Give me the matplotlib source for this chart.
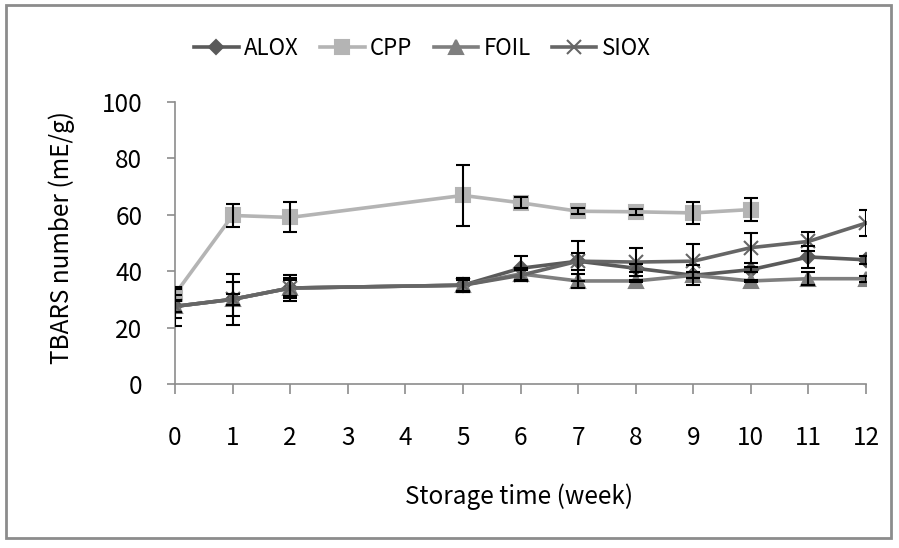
"""Recreate TBARS vs storage time chart -> out.png"""
import matplotlib
matplotlib.use("Agg")
import matplotlib.pyplot as plt
from matplotlib.patches import Rectangle

plt.rcParams["font.family"] = ["Noto Sans CJK KR", "DejaVu Sans"]

# ---- data --------------------------------------------------------------------
weeks = [0, 1, 2, 5, 6, 7, 8, 9, 10, 11, 12]
cpp_weeks = [0, 1, 2, 5, 6, 7, 8, 9, 10]

alox = [27.5, 30, 34, 35, 41, 43.5, 41, 38.5, 40.5, 45, 44]
alox_err = [4, 6, 3.5, 2.5, 4.5, 3, 1.5, 1, 1, 4, 1.5]

cpp = [31.8, 59.7, 59, 66.8, 64.2, 61.2, 61, 60.6, 61.8]
cpp_err = [2, 4.2, 5.3, 10.7, 2, 1, 1, 3.8, 4.2]

foil = [27.5, 30, 34, 35, 39, 36.5, 36.5, 38.5, 36.5, 37.3, 37.3]
foil_err = [2, 2, 3, 2, 2, 2.6, 0.5, 3.5, 0.5, 2.3, 1]

siox = [27.5, 30, 34, 35, 38.5, 43.5, 43.2, 43.5, 48.3, 50.5, 57]
siox_err = [7, 9, 4.5, 2.5, 2, 7, 5, 6, 5.3, 3.5, 4.5]

series = [
    ("ALOX", weeks, alox, alox_err, "#5a5a5a", "D", 7),
    ("CPP", cpp_weeks, cpp, cpp_err, "#b4b4b4", "s", 10),
    ("FOIL", weeks, foil, foil_err, "#7f7f7f", "^", 10),
    ("SIOX", weeks, siox, siox_err, "#666666", "x", 10),
]

FS = 17.5

fig = plt.figure(figsize=(8.99, 5.48), dpi=100, facecolor="white")
ax = fig.add_axes([175 / 899, 1 - 384 / 548, 691 / 899, 282.3 / 548])

for name, x, y, e, col, mk, ms in series:
    ax.plot(x, y, color=col, lw=2.6, marker=mk, ms=ms, mfc=col, mec=col,
            mew=1.5, label=name, zorder=2)
    ax.errorbar(x, y, yerr=e, fmt="none", ecolor="black", elinewidth=1.5,
                capsize=5, capthick=1.5, zorder=3)

ax.set_xlim(0, 12)
ax.set_ylim(0, 100)
ax.set_xticks(range(0, 13))
ax.set_yticks(range(0, 101, 20))
for s in ("top", "right"):
    ax.spines[s].set_visible(False)
for s in ("left", "bottom"):
    ax.spines[s].set_color("#8c8c8c")
    ax.spines[s].set_linewidth(1.2)
ax.tick_params(axis="x", direction="out", length=7.5, width=1.2,
               color="#8c8c8c", pad=22, labelsize=FS)
ax.tick_params(axis="y", direction="out", length=5.5, width=1.2,
               color="#8c8c8c", pad=18, labelsize=FS)

ax.set_ylabel("TBARS number (mE/g)", fontsize=FS)
ax.yaxis.set_label_coords(-0.145, 0.52)
ax.set_xlabel("Storage time (week)", fontsize=FS)
ax.xaxis.set_label_coords(0.498, -0.352)

fig.legend(loc="center", bbox_to_anchor=(0.47, 0.912), ncol=4,
           frameon=False, fontsize=16, handlelength=2.0,
           handletextpad=0.25, columnspacing=0.95)

fig.patches.append(Rectangle((6 / 899, 10 / 548), 885 / 899, 533 / 548,
                             transform=fig.transFigure, fill=False,
                             edgecolor="#8c8c8c", lw=2))

fig.savefig("out.png", dpi=100, facecolor="white")
